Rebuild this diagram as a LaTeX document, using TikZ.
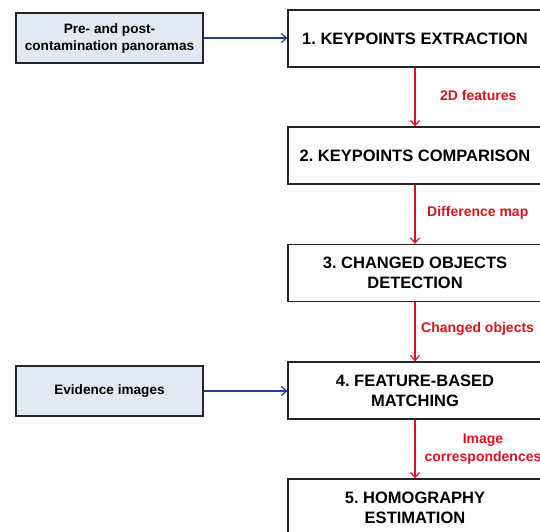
\documentclass[tikz,border=0pt]{standalone}
\usepackage{fontspec}
\setmainfont{Liberation Sans}
\frenchspacing
\usetikzlibrary{arrows.meta}
\definecolor{inbox}{HTML}{E2E8F1}
\definecolor{flowred}{HTML}{D9141E}
\definecolor{flowblue}{HTML}{1F3F8C}
\tikzset{
  stepbox/.style={draw=black!85, line width=1.3pt, fill=white, minimum width=254pt, minimum height=57pt, inner sep=2pt, align=center, font=\bfseries\fontsize{16.5}{20}\selectfont},
  inputbox/.style={draw=black!85, line width=1.3pt, fill=inbox, minimum width=187pt, minimum height=50pt, inner sep=2pt, align=center, font=\bfseries\fontsize{13.6}{17}\selectfont},
  redarrow/.style={draw=flowred, line width=1.2pt, -{Straight Barb[length=5pt,width=9pt]}},
  bluearrow/.style={draw=flowblue, line width=1.2pt, -{Straight Barb[length=5pt,width=9pt]}},
  flowlabel/.style={text=flowred, font=\bfseries\fontsize{14}{18}\selectfont, inner sep=0pt, align=center}
}
\begin{document}
\begin{tikzpicture}[x=1pt,y=-1pt]
\useasboundingbox (0,0) rectangle (540,531);
\node[stepbox] (s1) at (415,38.5) {1. KEYPOINTS EXTRACTION};
\node[stepbox] (s2) at (415,155.5) {2. KEYPOINTS COMPARISON};
\node[stepbox] (s3) at (415,273) {3. CHANGED OBJECTS\\DETECTION};
\node[stepbox] (s4) at (415,390.5) {4. FEATURE-BASED\\MATCHING};
\node[stepbox] (s5) at (415,507.5) {5. HOMOGRAPHY\\ESTIMATION};
\node[inputbox] (pa) at (109.5,38) {\raisebox{-2pt}{\parbox{180pt}{\centering Pre- and post-\\contamination panoramas}}};
\node[inputbox] (ev) at (109.5,391) {Evidence images};
\draw[bluearrow] (pa.east) -- (s1.west |- pa.east);
\draw[bluearrow] (ev.east) -- (s4.west |- ev.east);
\draw[redarrow] (s1.south) -- (s2.north);
\draw[redarrow] (s2.south) -- (s3.north);
\draw[redarrow] (s3.south) -- (s4.north);
\draw[redarrow] (s4.south) -- (s5.north);
\node[flowlabel, anchor=west] (l1) at (440,95) {2D features};
\node[flowlabel, anchor=west] (l2) at (427,213) {Difference map};
\node[flowlabel, anchor=west] (l3) at (421,329) {Changed objects};
\node[flowlabel] (l4) at (483,449) {Image\\correspondences};
\end{tikzpicture}
\end{document}
